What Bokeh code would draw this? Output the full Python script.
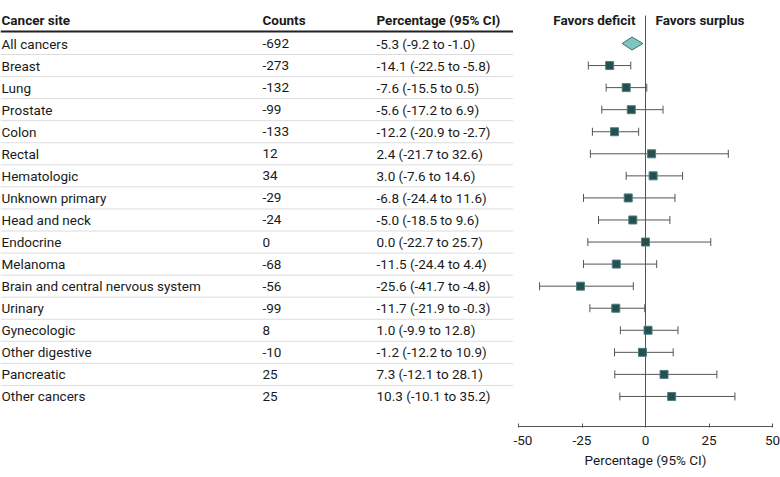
from bokeh.plotting import figure
from bokeh.layouts import row
from bokeh.models import Range1d, ColumnDataSource, FixedTicker, Whisker, TeeHead
from bokeh.core.properties import value
from bokeh.embed import file_html
from bokeh.resources import INLINE

# ---------------- data ----------------
sites = ["All cancers", "Breast", "Lung", "Prostate", "Colon", "Rectal", "Hematologic",
         "Unknown primary", "Head and neck", "Endocrine", "Melanoma",
         "Brain and central nervous system", "Urinary", "Gynecologic", "Other digestive",
         "Pancreatic", "Other cancers"]
counts = [-692, -273, -132, -99, -133, 12, 34, -29, -24, 0, -68, -56, -99, 8, -10, 25, 25]
pct = [-5.3, -14.1, -7.6, -5.6, -12.2, 2.4, 3.0, -6.8, -5.0, 0.0, -11.5, -25.6, -11.7, 1.0, -1.2, 7.3, 10.3]
lo = [-9.2, -22.5, -15.5, -17.2, -20.9, -21.7, -7.6, -24.4, -18.5, -22.7, -24.4, -41.7, -21.9, -9.9, -12.2, -12.1, -10.1]
hi = [-1.0, -5.8, 0.5, 6.9, -2.7, 32.6, 14.6, 11.6, 9.6, 25.7, 4.4, -4.8, -0.3, 12.8, 10.9, 28.1, 35.2]
headers = ["Cancer site", "Counts", "Percentage (95% CI)"]
favors = ["Favors deficit", "Favors surplus"]
tick_vals = [-50, -25, 0, 25, 50]
x_label = "Percentage (95% CI)"

# ---------------- layout (pixels) ----------------
TW = 513                 # table figure width
FW, FH = 264, 426        # forest frame
PAD = 5                  # px between frame edge and -50 / 50
ROW0, ROWH = 43.0, 22.06
upp = (tick_vals[-1] - tick_vals[0]) / (FW - 2 * PAD)
x0 = tick_vals[0] - PAD * upp
x1 = tick_vals[-1] + PAD * upp

def row_of(py):
    return (py - ROW0) / ROWH

FONT = "Roboto"
FS = "13.5px"
TXT = "#1a1a1a"

n = len(sites)
rows = list(range(n))
yr0, yr1 = row_of(FH), row_of(0)

# ---------------- table figure ----------------
t = figure(frame_width=TW, frame_height=FH, output_backend="svg", toolbar_location=None,
           x_range=Range1d(0, TW), y_range=Range1d(yr0, yr1),
           x_axis_location=None, y_axis_location=None, min_border=0)
t.outline_line_color = None
t.xgrid.visible = False
t.ygrid.visible = False

sep_y = [r + 0.5 for r in rows[:-1]]
t.segment(x0=[0] * len(sep_y), x1=[TW] * len(sep_y), y0=sep_y, y1=sep_y,
          line_color="#dcdcdc", line_width=1)
hl = row_of(31)
t.segment(x0=[0], x1=[TW], y0=[hl], y1=[hl], line_color="#222222", line_width=2)

hy = row_of(19)
t.text(x=[1, 262, 376], y=[hy] * 3, text=headers,
       text_font=value(FONT), text_font_size=FS, text_font_style="bold",
       text_color=TXT, text_baseline="middle", text_align="left")

pct_txt = [f"{a:.1f} ({b:.1f} to {c:.1f})" for a, b, c in zip(pct, lo, hi)]
cnt_txt = [str(c) for c in counts]
tsrc = ColumnDataSource(dict(y=rows, site=sites, cnt=cnt_txt, pct=pct_txt,
                             xs=[1] * n, xc=[262] * n, xp=[376] * n))
for col, xc in (("site", "xs"), ("cnt", "xc"), ("pct", "xp")):
    t.text(x=xc, y="y", text=col, source=tsrc,
           text_font=value(FONT), text_font_size=FS, text_color=TXT,
           text_baseline="middle", text_align="left")

# ---------------- forest figure ----------------
p = figure(frame_width=FW, frame_height=FH, output_backend="svg", toolbar_location=None,
           x_range=Range1d(x0, x1), y_range=Range1d(yr0, yr1),
           y_axis_location=None, min_border=0, min_border_right=3)
p.outline_line_color = None
p.xgrid.visible = False
p.ygrid.visible = False

ax = p.xaxis[0]
ax.bounds = (tick_vals[0], tick_vals[-1])
ax.ticker = FixedTicker(ticks=tick_vals)
ax.major_label_overrides = {v: str(v) for v in tick_vals}
ax.axis_label = x_label
ax.axis_line_color = "#555555"
ax.major_tick_line_color = "#555555"
ax.major_tick_in = 3
ax.major_tick_out = 1
ax.minor_tick_line_color = None
ax.major_label_standoff = 8
ax.axis_label_standoff = 4
ax.major_label_text_font = FONT
ax.major_label_text_font_size = FS
ax.major_label_text_color = TXT
ax.axis_label_text_font = FONT
ax.axis_label_text_font_size = FS
ax.axis_label_text_font_style = "normal"
ax.axis_label_text_color = TXT

# zero line
p.segment(x0=[0], x1=[0], y0=[row_of(15)], y1=[yr0], line_color="#555555", line_width=1)

# favors labels
p.text(x=[0], y=[hy], text=[favors[0]], x_offset=-10, text_font=value(FONT), text_font_size=FS,
       text_font_style="bold", text_color=TXT, text_baseline="middle", text_align="right")
p.text(x=[0], y=[hy], text=[favors[1]], x_offset=10, text_font=value(FONT), text_font_size=FS,
       text_font_style="bold", text_color=TXT, text_baseline="middle", text_align="left")

wsrc = ColumnDataSource(dict(y=rows[1:], est=pct[1:], lo=lo[1:], hi=hi[1:]))
w = Whisker(base="y", lower="lo", upper="hi", dimension="width", source=wsrc,
            line_color="#555555", line_width=1,
            lower_head=TeeHead(size=8, line_color="#555555", line_width=1),
            upper_head=TeeHead(size=8, line_color="#555555", line_width=1))
p.add_layout(w)
p.scatter(x="est", y="y", source=wsrc, marker="square", size=8,
          fill_color="#24504f", line_color="#4f7f7d", line_width=1)

dh = 6.5 / ROWH
p.patch(x=[lo[0], pct[0], hi[0], pct[0]], y=[rows[0], rows[0] - dh, rows[0], rows[0] + dh],
        fill_color="#7cc5c1", line_color="#3f6f6d", line_width=1)

layout = row(t, p)
open("out.html", "w").write(file_html(layout, INLINE))
